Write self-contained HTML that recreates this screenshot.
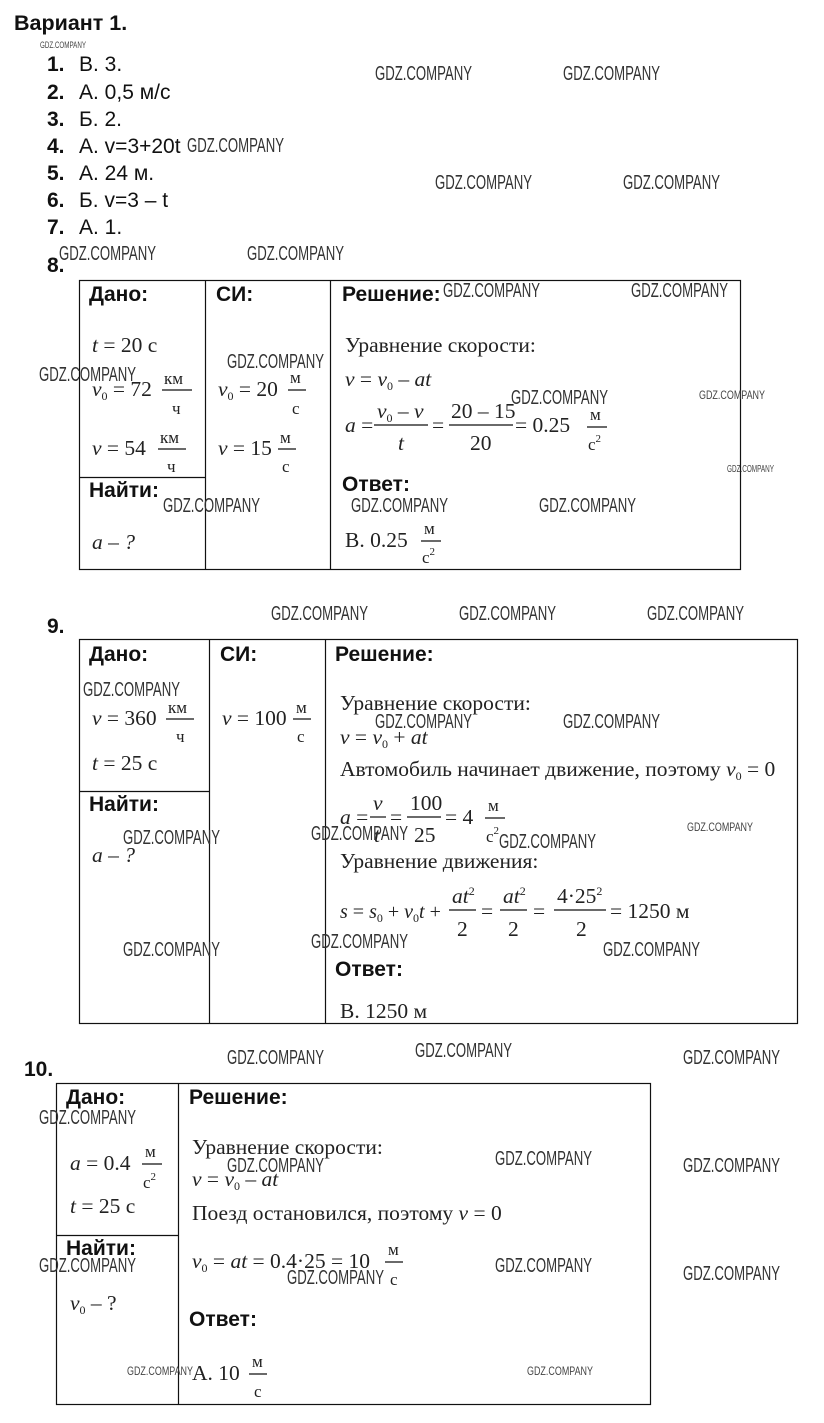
<!DOCTYPE html>
<html><head><meta charset="utf-8"><style>
html,body{margin:0;padding:0;background:#fff;}
svg{display:block;}
.b{font-family:"Liberation Sans",sans-serif;font-weight:bold;font-size:21px;fill:#111;}
.s{font-family:"Liberation Sans",sans-serif;font-size:21px;fill:#111;}
.m{font-family:"Liberation Serif",serif;font-size:21.5px;fill:#222;}
.i{font-style:italic;}
.f{font-family:"Liberation Serif",serif;font-size:17px;fill:#222;}
.w{font-family:"Liberation Sans",sans-serif;font-size:20px;fill:#333;}
.ws{font-family:"Liberation Sans",sans-serif;font-size:12px;fill:#444;}
line{stroke:#111;stroke-width:1.2;}
</style></head><body>
<svg width="824" height="1423" viewBox="0 0 824 1423" xmlns="http://www.w3.org/2000/svg">
<text class="b" x="14" y="30" style="font-size:21.5px">Вариант 1.</text>
<text class="ws" x="40" y="48" textLength="46" lengthAdjust="spacingAndGlyphs" style="font-size:9px">GDZ.COMPANY</text>
<g class="b"><text x="47" y="71">1.</text><text x="47" y="99">2.</text><text x="47" y="126">3.</text><text x="47" y="153">4.</text><text x="47" y="180">5.</text><text x="47" y="207">6.</text><text x="47" y="234">7.</text><text x="47" y="272">8.</text><text x="47" y="633">9.</text><text x="24" y="1076">10.</text></g>
<g class="s"><text x="79" y="71">В. 3.</text><text x="79" y="99">А. 0,5 м/с</text><text x="79" y="126">Б. 2.</text><text x="79" y="153">А. v=3+20t</text><text x="79" y="180">А. 24 м.</text><text x="79" y="207">Б. v=3 – t</text><text x="79" y="234">А. 1.</text></g>

<!-- table 8 -->
<g fill="none">
<rect x="79.5" y="280.5" width="661" height="289" stroke="#111" stroke-width="1.2"/>
<line x1="205.5" y1="280" x2="205.5" y2="570"/><line x1="330.5" y1="280" x2="330.5" y2="570"/><line x1="79" y1="477.5" x2="205" y2="477.5"/>
</g>
<text class="b" x="89" y="301">Дано:</text><text class="b" x="216" y="301">СИ:</text><text class="b" x="342" y="301">Решение:</text>
<text class="m" x="92" y="352"><tspan class="i">t</tspan> = 20 с</text>
<text class="m" x="92" y="396"><tspan class="i">v</tspan><tspan font-size="12" dy="4">0</tspan><tspan dy="-4"> = 72</tspan></text>
<text class="f" x="164" y="384">км</text><line x1="162" y1="390" x2="192" y2="390"/><text class="f" x="172" y="414">ч</text>
<text class="m" x="92" y="455"><tspan class="i">v</tspan> = 54</text>
<text class="f" x="160" y="443">км</text><line x1="158" y1="449" x2="186" y2="449"/><text class="f" x="167" y="472">ч</text>
<text class="b" x="89" y="497">Найти:</text>
<text class="m i" x="92" y="549">a – ?</text>
<text class="m" x="218" y="396"><tspan class="i">v</tspan><tspan font-size="12" dy="4">0</tspan><tspan dy="-4"> = 20</tspan></text>
<text class="f" x="290" y="383">м</text><line x1="288" y1="390" x2="306" y2="390"/><text class="f" x="292" y="414">с</text>
<text class="m" x="218" y="455"><tspan class="i">v</tspan> = 15</text>
<text class="f" x="280" y="443">м</text><line x1="278" y1="449" x2="296" y2="449"/><text class="f" x="282" y="472">с</text>
<text class="m" x="345" y="352">Уравнение скорости:</text>
<text class="m" x="345" y="386"><tspan class="i">v</tspan> = <tspan class="i">v</tspan><tspan font-size="12" dy="4">0</tspan><tspan dy="-4"> – </tspan><tspan class="i">at</tspan></text>
<text class="m" x="345" y="432"><tspan class="i">a</tspan> =</text>
<text class="m" x="377" y="418"><tspan class="i">v</tspan><tspan font-size="12" dy="4">0</tspan><tspan dy="-4"> – </tspan><tspan class="i">v</tspan></text>
<line x1="374" y1="425" x2="428" y2="425"/><text class="m i" x="398" y="450">t</text>
<text class="m" x="432" y="432">=</text>
<text class="m" x="451" y="418">20 – 15</text><line x1="449" y1="425" x2="513" y2="425"/><text class="m" x="470" y="450">20</text>
<text class="m" x="515" y="432">= 0.25</text>
<text class="f" x="590" y="420">м</text><line x1="587" y1="427" x2="607" y2="427"/><text class="f" x="588" y="450">с<tspan font-size="11" dy="-8">2</tspan></text>
<text class="b" x="342" y="491">Ответ:</text>
<text class="m" x="345" y="547">В. 0.25</text>
<text class="f" x="424" y="534">м</text><line x1="421" y1="541" x2="441" y2="541"/><text class="f" x="422" y="563">с<tspan font-size="11" dy="-8">2</tspan></text>

<!-- table 9 -->
<g fill="none">
<rect x="79.5" y="639.5" width="718" height="384" stroke="#111" stroke-width="1.2"/>
<line x1="209.5" y1="639" x2="209.5" y2="1024"/><line x1="325.5" y1="639" x2="325.5" y2="1024"/><line x1="79" y1="791.5" x2="209" y2="791.5"/>
</g>
<text class="b" x="89" y="661">Дано:</text><text class="b" x="220" y="661">СИ:</text><text class="b" x="335" y="661">Решение:</text>
<text class="m" x="92" y="725"><tspan class="i">v</tspan> = 360</text>
<text class="f" x="168" y="713">км</text><line x1="166" y1="719" x2="194" y2="719"/><text class="f" x="176" y="742">ч</text>
<text class="m" x="92" y="770"><tspan class="i">t</tspan> = 25 с</text>
<text class="b" x="89" y="811">Найти:</text>
<text class="m i" x="92" y="862">a – ?</text>
<text class="m" x="222" y="725"><tspan class="i">v</tspan> = 100</text>
<text class="f" x="296" y="713">м</text><line x1="293" y1="719" x2="311" y2="719"/><text class="f" x="297" y="742">с</text>
<text class="m" x="340" y="710">Уравнение скорости:</text>
<text class="m" x="340" y="744"><tspan class="i">v</tspan> = <tspan class="i">v</tspan><tspan font-size="12" dy="4">0</tspan><tspan dy="-4"> + </tspan><tspan class="i">at</tspan></text>
<text class="m" x="340" y="776">Автомобиль начинает движение, поэтому <tspan class="i">v</tspan><tspan font-size="12" dy="4">0</tspan><tspan dy="-4"> = 0</tspan></text>
<text class="m" x="340" y="824"><tspan class="i">a</tspan> =</text>
<text class="m i" x="373" y="810">v</text><line x1="370" y1="817" x2="386" y2="817"/><text class="m i" x="374" y="842">t</text>
<text class="m" x="390" y="824">=</text>
<text class="m" x="410" y="810">100</text><line x1="407" y1="817" x2="441" y2="817"/><text class="m" x="414" y="842">25</text>
<text class="m" x="445" y="824">= 4</text>
<text class="f" x="488" y="811">м</text><line x1="485" y1="818" x2="505" y2="818"/><text class="f" x="486" y="842">с<tspan font-size="11" dy="-8">2</tspan></text>
<text class="m" x="340" y="868">Уравнение движения:</text>
<text class="m" x="340" y="918" style="font-size:20px"><tspan class="i">s</tspan> = <tspan class="i">s</tspan><tspan font-size="12" dy="4">0</tspan><tspan dy="-4"> + </tspan><tspan class="i">v</tspan><tspan font-size="12" dy="4">0</tspan><tspan dy="-4" class="i">t</tspan> +</text>
<text class="m" x="452" y="903"><tspan class="i">at</tspan><tspan font-size="12" dy="-8">2</tspan></text><line x1="449" y1="910" x2="476" y2="910"/><text class="m" x="457" y="936">2</text>
<text class="m" x="481" y="918">=</text>
<text class="m" x="503" y="903"><tspan class="i">at</tspan><tspan font-size="12" dy="-8">2</tspan></text><line x1="500" y1="910" x2="527" y2="910"/><text class="m" x="508" y="936">2</text>
<text class="m" x="533" y="918">=</text>
<text class="m" x="557" y="903">4·25<tspan font-size="12" dy="-8">2</tspan></text><line x1="554" y1="910" x2="606" y2="910"/><text class="m" x="576" y="936">2</text>
<text class="m" x="610" y="918">= 1250 м</text>
<text class="b" x="335" y="976">Ответ:</text>
<text class="m" x="340" y="1018">В. 1250 м</text>

<!-- table 10 -->
<g fill="none">
<rect x="56.5" y="1083.5" width="594" height="321" stroke="#111" stroke-width="1.2"/>
<line x1="178.5" y1="1083" x2="178.5" y2="1405"/><line x1="56" y1="1235.5" x2="178" y2="1235.5"/>
</g>
<text class="b" x="66" y="1104">Дано:</text><text class="b" x="189" y="1104">Решение:</text>
<text class="m" x="70" y="1170"><tspan class="i">a</tspan> = 0.4</text>
<text class="f" x="145" y="1157">м</text><line x1="142" y1="1164" x2="162" y2="1164"/><text class="f" x="143" y="1188">с<tspan font-size="11" dy="-8">2</tspan></text>
<text class="m" x="70" y="1213"><tspan class="i">t</tspan> = 25 с</text>
<text class="b" x="66" y="1255">Найти:</text>
<text class="m" x="70" y="1310"><tspan class="i">v</tspan><tspan font-size="12" dy="4">0</tspan><tspan dy="-4"> – ?</tspan></text>
<text class="m" x="192" y="1154">Уравнение скорости:</text>
<text class="m" x="192" y="1186"><tspan class="i">v</tspan> = <tspan class="i">v</tspan><tspan font-size="12" dy="4">0</tspan><tspan dy="-4"> – </tspan><tspan class="i">at</tspan></text>
<text class="m" x="192" y="1220">Поезд остановился, поэтому <tspan class="i">v</tspan> = 0</text>
<text class="m" x="192" y="1268"><tspan class="i">v</tspan><tspan font-size="12" dy="4">0</tspan><tspan dy="-4"> = </tspan><tspan class="i">at</tspan> = 0.4·25 = 10</text>
<text class="f" x="388" y="1255">м</text><line x1="385" y1="1262" x2="403" y2="1262"/><text class="f" x="390" y="1285">с</text>
<text class="b" x="189" y="1326">Ответ:</text>
<text class="m" x="192" y="1380">А. 10</text>
<text class="f" x="252" y="1367">м</text><line x1="249" y1="1374" x2="267" y2="1374"/><text class="f" x="254" y="1397">с</text>

<!-- watermarks -->
<g class="w">
<text x="375" y="80" textLength="97" lengthAdjust="spacingAndGlyphs">GDZ.COMPANY</text>
<text x="563" y="80" textLength="97" lengthAdjust="spacingAndGlyphs">GDZ.COMPANY</text>
<text x="187" y="152" textLength="97" lengthAdjust="spacingAndGlyphs">GDZ.COMPANY</text>
<text x="435" y="189" textLength="97" lengthAdjust="spacingAndGlyphs">GDZ.COMPANY</text>
<text x="623" y="189" textLength="97" lengthAdjust="spacingAndGlyphs">GDZ.COMPANY</text>
<text x="59" y="260" textLength="97" lengthAdjust="spacingAndGlyphs">GDZ.COMPANY</text>
<text x="247" y="260" textLength="97" lengthAdjust="spacingAndGlyphs">GDZ.COMPANY</text>
<text x="443" y="297" textLength="97" lengthAdjust="spacingAndGlyphs">GDZ.COMPANY</text>
<text x="631" y="297" textLength="97" lengthAdjust="spacingAndGlyphs">GDZ.COMPANY</text>
<text x="227" y="368" textLength="97" lengthAdjust="spacingAndGlyphs">GDZ.COMPANY</text>
<text x="39" y="381" textLength="97" lengthAdjust="spacingAndGlyphs">GDZ.COMPANY</text>
<text x="511" y="404" textLength="97" lengthAdjust="spacingAndGlyphs">GDZ.COMPANY</text>
<text x="163" y="512" textLength="97" lengthAdjust="spacingAndGlyphs">GDZ.COMPANY</text>
<text x="351" y="512" textLength="97" lengthAdjust="spacingAndGlyphs">GDZ.COMPANY</text>
<text x="539" y="512" textLength="97" lengthAdjust="spacingAndGlyphs">GDZ.COMPANY</text>
<text x="271" y="620" textLength="97" lengthAdjust="spacingAndGlyphs">GDZ.COMPANY</text>
<text x="459" y="620" textLength="97" lengthAdjust="spacingAndGlyphs">GDZ.COMPANY</text>
<text x="647" y="620" textLength="97" lengthAdjust="spacingAndGlyphs">GDZ.COMPANY</text>
<text x="83" y="696" textLength="97" lengthAdjust="spacingAndGlyphs">GDZ.COMPANY</text>
<text x="375" y="728" textLength="97" lengthAdjust="spacingAndGlyphs">GDZ.COMPANY</text>
<text x="563" y="728" textLength="97" lengthAdjust="spacingAndGlyphs">GDZ.COMPANY</text>
<text x="123" y="844" textLength="97" lengthAdjust="spacingAndGlyphs">GDZ.COMPANY</text>
<text x="311" y="840" textLength="97" lengthAdjust="spacingAndGlyphs">GDZ.COMPANY</text>
<text x="499" y="848" textLength="97" lengthAdjust="spacingAndGlyphs">GDZ.COMPANY</text>
<text x="123" y="956" textLength="97" lengthAdjust="spacingAndGlyphs">GDZ.COMPANY</text>
<text x="311" y="948" textLength="97" lengthAdjust="spacingAndGlyphs">GDZ.COMPANY</text>
<text x="603" y="956" textLength="97" lengthAdjust="spacingAndGlyphs">GDZ.COMPANY</text>
<text x="227" y="1064" textLength="97" lengthAdjust="spacingAndGlyphs">GDZ.COMPANY</text>
<text x="415" y="1057" textLength="97" lengthAdjust="spacingAndGlyphs">GDZ.COMPANY</text>
<text x="683" y="1064" textLength="97" lengthAdjust="spacingAndGlyphs">GDZ.COMPANY</text>
<text x="39" y="1124" textLength="97" lengthAdjust="spacingAndGlyphs">GDZ.COMPANY</text>
<text x="495" y="1165" textLength="97" lengthAdjust="spacingAndGlyphs">GDZ.COMPANY</text>
<text x="227" y="1172" textLength="97" lengthAdjust="spacingAndGlyphs">GDZ.COMPANY</text>
<text x="683" y="1172" textLength="97" lengthAdjust="spacingAndGlyphs">GDZ.COMPANY</text>
<text x="39" y="1272" textLength="97" lengthAdjust="spacingAndGlyphs">GDZ.COMPANY</text>
<text x="287" y="1284" textLength="97" lengthAdjust="spacingAndGlyphs">GDZ.COMPANY</text>
<text x="495" y="1272" textLength="97" lengthAdjust="spacingAndGlyphs">GDZ.COMPANY</text>
<text x="683" y="1280" textLength="97" lengthAdjust="spacingAndGlyphs">GDZ.COMPANY</text>
</g>
<g class="ws">
<text x="699" y="399" textLength="66" lengthAdjust="spacingAndGlyphs">GDZ.COMPANY</text>
<text x="727" y="472" textLength="47" lengthAdjust="spacingAndGlyphs" style="font-size:10px">GDZ.COMPANY</text>
<text x="687" y="831" textLength="66" lengthAdjust="spacingAndGlyphs">GDZ.COMPANY</text>
<text x="127" y="1375" textLength="66" lengthAdjust="spacingAndGlyphs">GDZ.COMPANY</text>
<text x="527" y="1375" textLength="66" lengthAdjust="spacingAndGlyphs">GDZ.COMPANY</text>
</g>
</svg>
</body></html>
